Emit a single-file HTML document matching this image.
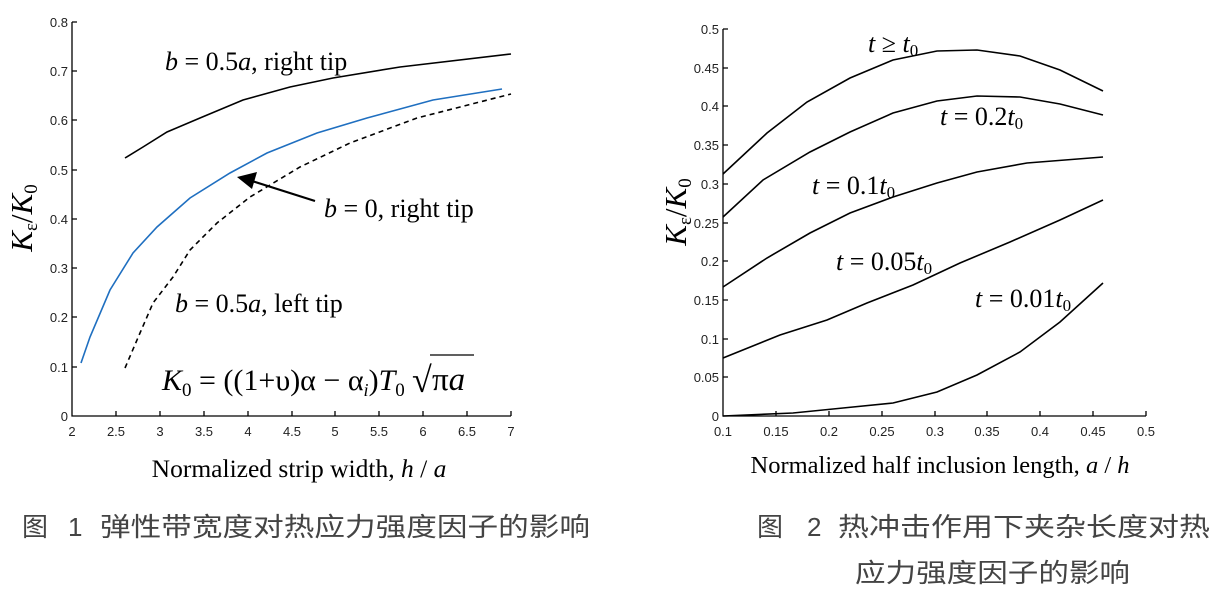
<!DOCTYPE html>
<html><head><meta charset="utf-8"><style>
body{margin:0;background:#fff;}
svg{display:block;}
.t{font-family:"Liberation Sans",sans-serif;font-size:13px;fill:#222;}
.s{font-family:"Liberation Serif",serif;fill:#000;}
.c{font-family:"Liberation Sans","Noto Sans CJK SC",sans-serif;font-size:26px;fill:#444;}
</style></head><body>
<svg width="1218" height="605" viewBox="0 0 1218 605" xmlns="http://www.w3.org/2000/svg">
<rect width="1218" height="605" fill="#fff"/>
<g stroke="#000" stroke-width="1.3" fill="none">
<path d="M72,22 V416 H511"/>
<path d="M72,22h5M72,71h5M72,120h5M72,170h5M72,219h5M72,268h5M72,317h5M72,367h5"/>
<path d="M116,416v-5M160,416v-5M204,416v-5M248,416v-5M292,416v-5M335,416v-5M379,416v-5M423,416v-5M467,416v-5M511,416v-5"/>
</g>
<g class="t" text-anchor="end">
<text x="68" y="27">0.8</text><text x="68" y="76">0.7</text><text x="68" y="125">0.6</text><text x="68" y="175">0.5</text><text x="68" y="224">0.4</text><text x="68" y="273">0.3</text><text x="68" y="322">0.2</text><text x="68" y="372">0.1</text><text x="68" y="421">0</text>
</g>
<g class="t" text-anchor="middle">
<text x="72" y="436">2</text><text x="116" y="436">2.5</text><text x="160" y="436">3</text><text x="204" y="436">3.5</text><text x="248" y="436">4</text><text x="292" y="436">4.5</text><text x="335" y="436">5</text><text x="379" y="436">5.5</text><text x="423" y="436">6</text><text x="467" y="436">6.5</text><text x="511" y="436">7</text>
</g>
<g fill="none" stroke-width="1.6">
<polyline stroke="#000" points="125,158 143,147 167,132 200,118 243,100 290,87 333,78 400,67 511,54"/>
<polyline stroke="#1f6fc0" points="81,363 90,337 110,290 133,253 157,227 190,198 230,173 267,153 317,133 367,118 433,100 502,89"/>
<polyline stroke="#000" stroke-dasharray="5,4" points="125,368 140,333 153,303 173,277 190,250 217,223 250,197 300,167 350,143 417,118 511,94"/>
<line x1="315" y1="201" x2="252" y2="181" stroke="#000" stroke-width="2.2"/>
</g>
<polygon points="237,177 257,172 252,189" fill="#000"/>
<text class="s" x="165" y="70" style="font-size:26px"><tspan font-style="italic">b</tspan> = 0.5<tspan font-style="italic">a</tspan>, right tip</text>
<text class="s" x="324" y="217" style="font-size:26px"><tspan font-style="italic">b</tspan> = 0, right tip</text>
<text class="s" x="175" y="312" style="font-size:26px"><tspan font-style="italic">b</tspan> = 0.5<tspan font-style="italic">a</tspan>, left tip</text>
<text class="s" x="162" y="390" style="font-size:30px"><tspan font-style="italic">K</tspan><tspan style="font-size:19px" dy="6">0</tspan><tspan dy="-6"> = ((1+υ)α − α</tspan><tspan style="font-size:18px" dy="6" font-style="italic">i</tspan><tspan dy="-6">)</tspan><tspan font-style="italic">T</tspan><tspan style="font-size:19px" dy="6">0</tspan></text>
<text class="s" x="412" y="392" style="font-size:36px">√</text>
<text class="s" x="432" y="390" style="font-size:33px">π<tspan font-style="italic">a</tspan></text>
<line x1="430" y1="355" x2="474" y2="355" stroke="#000" stroke-width="1.2"/>
<text class="s" transform="translate(32,218) rotate(-90)" text-anchor="middle" style="font-size:31px"><tspan font-style="italic">K</tspan><tspan style="font-size:19px" dy="5">ε</tspan><tspan dy="-5">/</tspan><tspan font-style="italic">K</tspan><tspan style="font-size:19px" dy="5">0</tspan></text>
<text class="s" x="299" y="477" text-anchor="middle" style="font-size:25.5px">Normalized strip width, <tspan font-style="italic">h</tspan> / <tspan font-style="italic">a</tspan></text>
<text class="c" x="22" y="536">图</text>
<text class="c" x="68" y="536">1</text>
<text class="c" x="100" y="536" textLength="490" lengthAdjust="spacingAndGlyphs">弹性带宽度对热应力强度因子的影响</text>

<g stroke="#000" stroke-width="1.3" fill="none">
<path d="M723,29 V416 H1146"/>
<path d="M723,29h5M723,68h5M723,106h5M723,145h5M723,184h5M723,223h5M723,261h5M723,300h5M723,339h5M723,377h5"/>
<path d="M776,416v-5M829,416v-5M882,416v-5M935,416v-5M987,416v-5M1040,416v-5M1093,416v-5M1146,416v-5"/>
</g>
<g class="t" text-anchor="end">
<text x="719" y="34">0.5</text><text x="719" y="73">0.45</text><text x="719" y="111">0.4</text><text x="719" y="150">0.35</text><text x="719" y="189">0.3</text><text x="719" y="228">0.25</text><text x="719" y="266">0.2</text><text x="719" y="305">0.15</text><text x="719" y="344">0.1</text><text x="719" y="382">0.05</text><text x="719" y="421">0</text>
</g>
<g class="t" text-anchor="middle">
<text x="723" y="436">0.1</text><text x="776" y="436">0.15</text><text x="829" y="436">0.2</text><text x="882" y="436">0.25</text><text x="935" y="436">0.3</text><text x="987" y="436">0.35</text><text x="1040" y="436">0.4</text><text x="1093" y="436">0.45</text><text x="1146" y="436">0.5</text>
</g>
<g fill="none" stroke="#000" stroke-width="1.6">
<polyline points="723,174 767,133 807,102 850,78 893,60 937,51 977,50 1020,56 1060,70 1103,91"/>
<polyline points="723,217 763,180 810,152 850,132 893,113 937,101 977,96 1020,97 1060,104 1103,115"/>
<polyline points="723,287 767,258 810,233 850,213 893,197 937,183 977,172 1027,163 1103,157"/>
<polyline points="723,358 780,335 827,320 867,303 913,285 960,263 1010,242 1060,220 1103,200"/>
<polyline points="723,416 793,413 843,408 893,403 937,392 977,375 1020,352 1060,322 1103,283"/>
</g>
<g class="s" style="font-size:26px">
<text x="868" y="52"><tspan font-style="italic">t</tspan> ≥ <tspan font-style="italic">t</tspan><tspan style="font-size:17px" dy="4">0</tspan></text>
<text x="940" y="125"><tspan font-style="italic">t</tspan> = 0.2<tspan font-style="italic">t</tspan><tspan style="font-size:17px" dy="4">0</tspan></text>
<text x="812" y="194"><tspan font-style="italic">t</tspan> = 0.1<tspan font-style="italic">t</tspan><tspan style="font-size:17px" dy="4">0</tspan></text>
<text x="836" y="270"><tspan font-style="italic">t</tspan> = 0.05<tspan font-style="italic">t</tspan><tspan style="font-size:17px" dy="4">0</tspan></text>
<text x="975" y="307"><tspan font-style="italic">t</tspan> = 0.01<tspan font-style="italic">t</tspan><tspan style="font-size:17px" dy="4">0</tspan></text>
</g>
<text class="s" transform="translate(686,212) rotate(-90)" text-anchor="middle" style="font-size:31px"><tspan font-style="italic">K</tspan><tspan style="font-size:19px" dy="5">ε</tspan><tspan dy="-5">/</tspan><tspan font-style="italic">K</tspan><tspan style="font-size:19px" dy="5">0</tspan></text>
<text class="s" x="940" y="473" text-anchor="middle" style="font-size:24.5px">Normalized half inclusion length, <tspan font-style="italic">a</tspan> / <tspan font-style="italic">h</tspan></text>
<text class="c" x="757" y="536">图</text>
<text class="c" x="807" y="536">2</text>
<text class="c" x="838" y="536" textLength="372" lengthAdjust="spacingAndGlyphs">热冲击作用下夹杂长度对热</text>
<text class="c" x="855" y="582" textLength="275" lengthAdjust="spacingAndGlyphs">应力强度因子的影响</text>
</svg>
</body></html>
